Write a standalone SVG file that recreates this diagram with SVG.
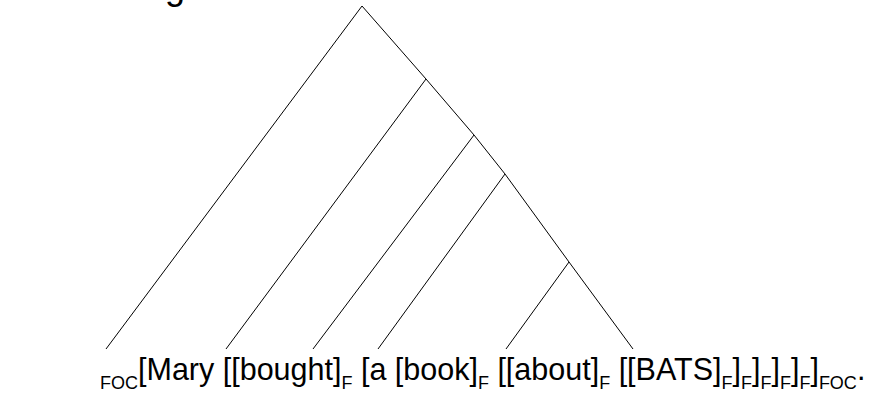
<svg xmlns="http://www.w3.org/2000/svg" width="869" height="395" viewBox="0 0 869 395">
  <style>
    .edge { stroke: #000; stroke-width: 1; fill: none; }
    .lbl { font-family: "Liberation Sans", Arial, sans-serif; font-size: 30.5px; fill: #000; }
    .sub { font-size: 18px; }
  </style>
  <rect width="869" height="395" fill="#fff"/>
  <!-- descender of a heading cut off at the top edge -->
  <text class="lbl" x="165" y="-1" style="font-size:36px">g</text>
  <g id="edges">
    <line class="edge" x1="362" y1="6" x2="106" y2="349"/>
    <polyline class="edge" points="362,6 426,79 474,135 505,174 569,262 633,349"/>
    <line class="edge" x1="426" y1="79" x2="226" y2="349"/>
    <line class="edge" x1="474" y1="135" x2="313" y2="349"/>
    <line class="edge" x1="505" y1="174" x2="378" y2="349"/>
    <line class="edge" x1="569" y1="262" x2="506" y2="349"/>
  </g>
  <g id="sentence">
    <text class="lbl" x="100" y="380"><tspan class="sub" dy="9">FOC</tspan><tspan dy="-9">[Mary [[bought]</tspan><tspan class="sub" dy="9">F</tspan><tspan dy="-9"> [a [book]</tspan><tspan class="sub" dy="9">F</tspan><tspan dy="-9"> [[about]</tspan><tspan class="sub" dy="9">F</tspan><tspan dy="-9"> [[BATS]</tspan><tspan class="sub" dy="9">F</tspan><tspan dy="-9">]</tspan><tspan class="sub" dy="9">F</tspan><tspan dy="-9">]</tspan><tspan class="sub" dy="9">F</tspan><tspan dy="-9">]</tspan><tspan class="sub" dy="9">F</tspan><tspan dy="-9">]</tspan><tspan class="sub" dy="9">F</tspan><tspan dy="-9">]</tspan><tspan class="sub" dy="9">FOC</tspan><tspan dy="-9">.</tspan></text>
  </g>
</svg>
